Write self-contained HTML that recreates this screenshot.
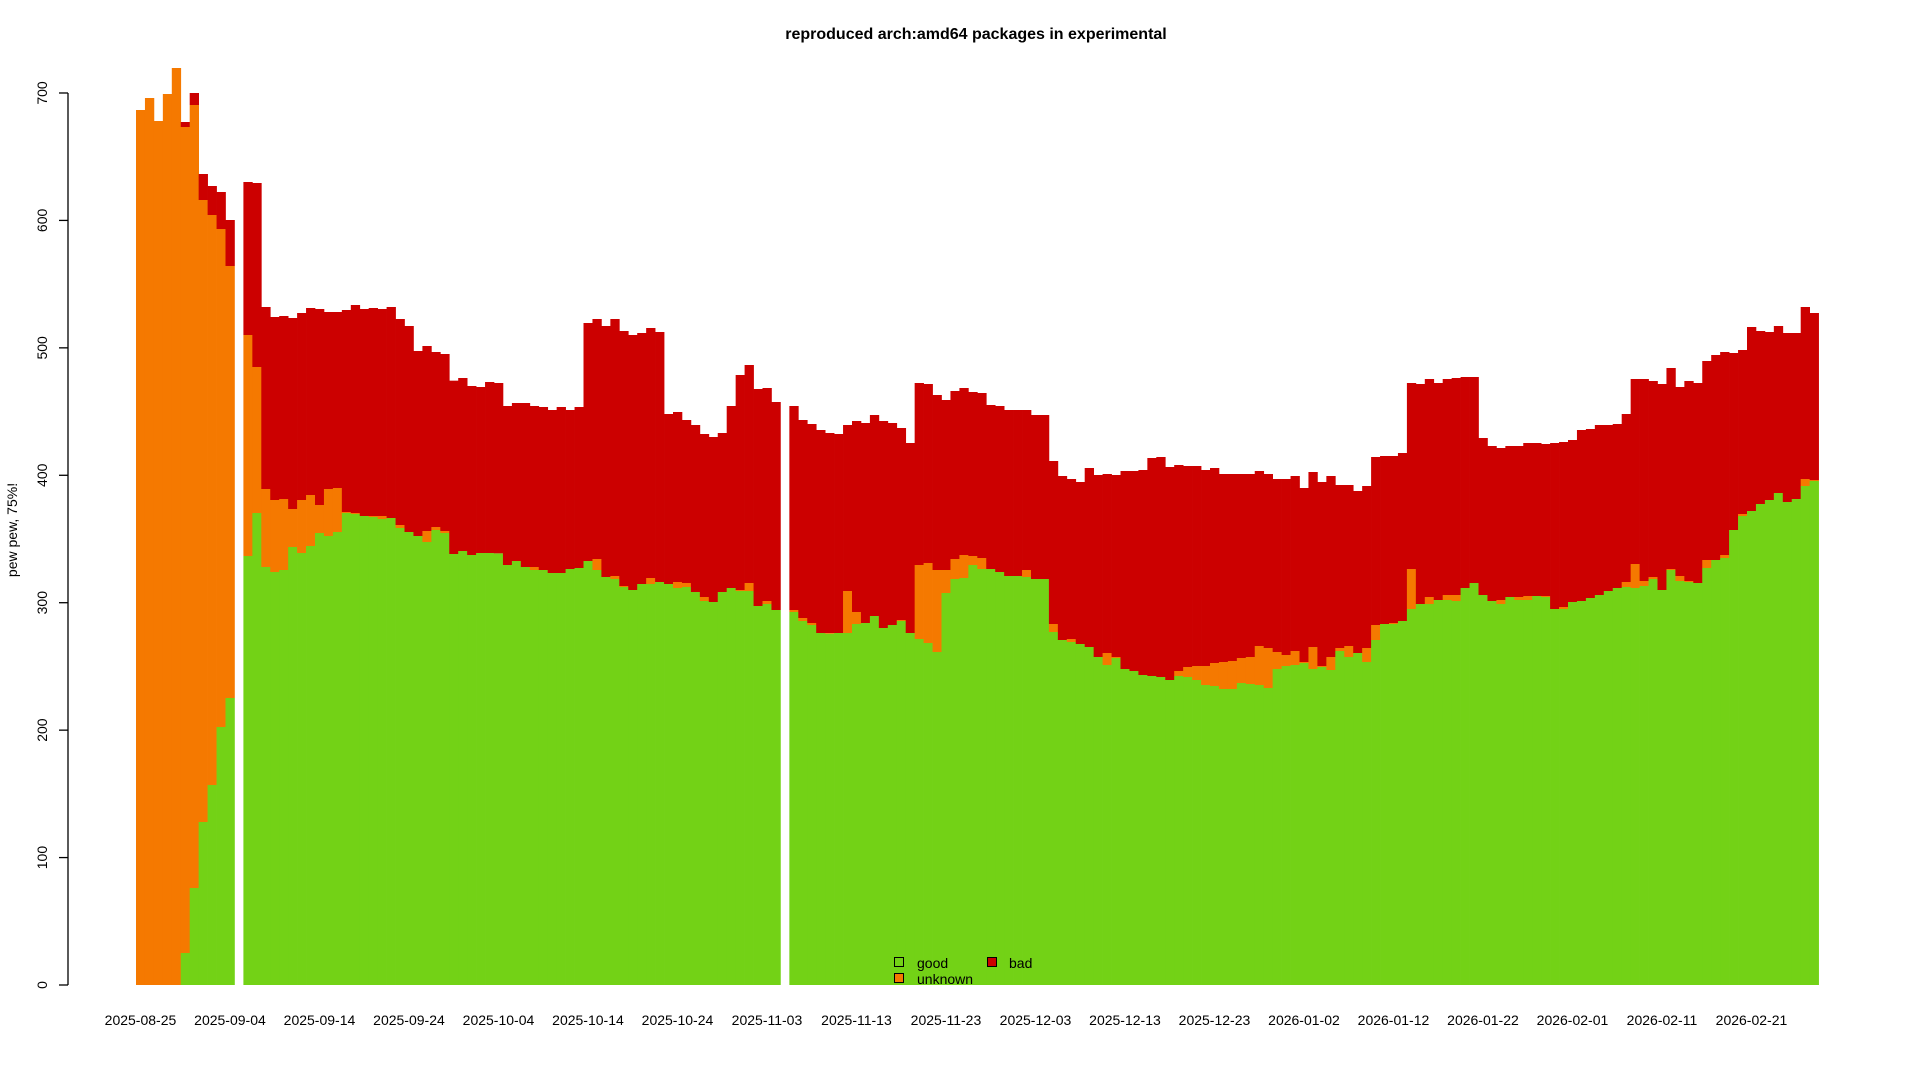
<!DOCTYPE html>
<html><head><meta charset="utf-8"><style>
html,body{margin:0;padding:0;background:#fff;width:1920px;height:1080px;overflow:hidden}
svg text{font-family:"Liberation Sans",Arial,sans-serif;fill:#000}
</style></head><body>
<svg id="c" width="1920" height="1080" xmlns="http://www.w3.org/2000/svg">
<rect width="1920" height="1080" fill="#fff"/>
<g id="bars"></g>
<text x="976" y="39" font-size="16" font-weight="bold" text-anchor="middle">reproduced arch:amd64 packages in experimental</text>
<line x1="68" y1="93" x2="68" y2="985" stroke="#000" stroke-width="1.3"/>
<g id="yt"></g>
<g id="xt"></g>
<text transform="translate(17,530) rotate(-90)" font-size="14" text-anchor="middle">pew pew, 75%!</text>
<rect x="894.5" y="957.5" width="9" height="9" fill="#73d216" stroke="#000" stroke-width="1"/>
<text x="917" y="968" font-size="14">good</text>
<rect x="987.5" y="957.5" width="9" height="9" fill="#cc0000" stroke="#000" stroke-width="1"/>
<text x="1009" y="968" font-size="14">bad</text>
<rect x="894.5" y="973.5" width="9" height="9" fill="#f57900" stroke="#000" stroke-width="1"/>
<text x="917" y="984" font-size="14">unknown</text>
</svg>
<script>
var early={0:[110,110,985],1:[98,98,985],2:[121,121,985],3:[94,94,985],4:[68,68,985],5:[122,127,953],6:[93,105,888],7:[174,200,822],8:[186,215,785],9:[192,229,727],10:[220,266,698]};
var z={12:[-294,165,828],13:[-291,261,699],14:[81,627,861],15:[111,660,876],16:[108,657,870],17:[114,687,801],18:[99,660,819],19:[84,645,798],20:[87,675,759],21:[96,627,768],22:[96,624,756],23:[90,696,699],24:[75,699,702],25:[87,708,708],26:[84,708,711],27:[87,708,717],28:[81,714,714],29:[117,735,744],30:[138,756,756],31:[213,768,768],32:[198,753,786],33:[216,741,750],34:[222,753,759],35:[302,822,822],36:[294,813,813],37:[318,825,825],38:[321,819,819],39:[306,819,819],40:[309,820,820],41:[378,855,855],42:[369,843,843],43:[369,861,861],44:[378,861,870],45:[381,870,870],46:[390,879,879],47:[381,879,879],48:[390,867,867],49:[381,864,864],50:[129,843,843],51:[117,837,870],52:[138,891,891],53:[117,888,897],54:[153,918,921],55:[165,930,930],56:[159,912,912],57:[144,894,912],58:[156,906,906],59:[402,912,912],60:[396,906,924],61:[420,909,921],62:[435,936,936],63:[462,951,963],64:[471,966,966],65:[459,936,936],66:[378,924,924],67:[285,930,933],68:[255,909,933],69:[327,978,978],70:[324,963,972],71:[366,990,990],73:[378,990,996],74:[420,1014,1023],75:[432,1029,1035],76:[450,1059,1059],77:[459,1059,1061],78:[462,1059,1059],79:[435,933,1059],80:[423,996,1032],81:[429,1029,1029],82:[405,1008,1008],83:[423,1044,1044],84:[429,1035,1035],85:[444,1020,1023],86:[489,1059,1059],87:[309,855,1077],88:[312,849,1089],89:[345,870,1116],90:[360,870,939],91:[333,837,897],92:[324,825,894],93:[336,828,855],94:[339,834,867],95:[375,867,867],96:[378,876,876],97:[390,888,888],98:[390,888,888],99:[390,870,891],100:[405,897,897],101:[405,897,897],102:[543,1032,1056],103:[588,1080,1080],104:[597,1077,1086],105:[606,1092,1092],106:[564,1101,1101],107:[585,1131,1131],108:[582,1119,1155],109:[585,1131,1134],110:[573,1167,1167],111:[573,1173,1173],112:[570,1185,1185],113:[534,1188,1188],114:[531,1191,1191],115:[561,1200,1200],116:[555,1173,1188],117:[558,1161,1191],118:[558,1158,1200],119:[570,1158,1215],120:[564,1149,1218],121:[582,1146,1227],122:[582,1143,1227],123:[582,1134,1209],124:[582,1131,1212],125:[573,1098,1215],126:[582,1104,1224],127:[597,1116,1167],128:[597,1125,1158],129:[588,1113,1155],130:[624,1146,1149],131:[576,1101,1167],132:[606,1158,1161],133:[588,1131,1170],134:[615,1104,1113],135:[615,1098,1131],136:[633,1119,1119],137:[618,1104,1146],138:[531,1035,1080],139:[528,1032,1032],140:[528,1029,1032],141:[519,1023,1023],142:[309,867,987],143:[312,972,972],144:[297,951,972],145:[309,960,960],146:[297,945,960],147:[294,945,963],148:[291,924,924],149:[291,909,909],150:[474,945,945],151:[498,963,963],152:[504,960,972],153:[498,951,951],154:[498,951,960],155:[489,948,960],156:[489,948,948],157:[492,948,951],158:[489,987,987],159:[486,981,987],160:[480,966,966],161:[450,963,963],162:[447,954,954],163:[435,945,945],164:[435,933,933],165:[432,924,924],166:[402,906,921],167:[297,852,924],168:[297,903,918],169:[303,891,897],170:[312,930,930],171:[264,867,870],172:[321,888,903],173:[303,903,906],174:[309,909,909],175:[243,840,864],176:[225,840,840],177:[216,825,834],178:[219,750,750],179:[210,702,708],180:[141,693,693],181:[153,672,672],182:[156,660,660],183:[138,639,639],184:[159,666,666],185:[159,657,657],186:[81,597,618],187:[99,600,603]};
var NS="http://www.w3.org/2000/svg",B=985,W=8.95;
function r(g,x,y1,y2,c){if(y2-y1<=0.1)return;var e=document.createElementNS(NS,"rect");e.setAttribute("x",x);e.setAttribute("y",y1);e.setAttribute("width",W+0.35);e.setAttribute("height",y2-y1);e.setAttribute("fill",c);g.appendChild(e);}
var g=document.getElementById("bars");
for(var i=0;i<188;i++){var v;if(early[i])v=early[i];else if(z[i])v=z[i].map(function(a){return 280+a/3});else continue;
var x=136+i*W;r(g,x,v[2],B,"#73d216");r(g,x,v[1],v[2],"#f57900");r(g,x,v[0],v[1],"#cc0000");}
var yt=document.getElementById("yt"),s="";
for(var k=0;k<=7;k++){var y=985-k*127.43;s+='<line x1="59" y1="'+y+'" x2="68" y2="'+y+'" stroke="#000" stroke-width="1.3"/>';
s+='<text transform="translate(47,'+y+') rotate(-90)" font-size="14" text-anchor="middle">'+(k*100)+'</text>';}
yt.innerHTML=s;
var xt=document.getElementById("xt");s="";var d0=Date.UTC(2025,7,25);
for(var k=0;k<19;k++){var d=new Date(d0+k*10*86400000);var t=d.toISOString().slice(0,10);var x=136+(k*10+0.5)*W;
s+='<text x="'+x+'" y="1025" font-size="14" text-anchor="middle">'+t+'</text>';}
xt.innerHTML=s;
</script>
</body></html>
